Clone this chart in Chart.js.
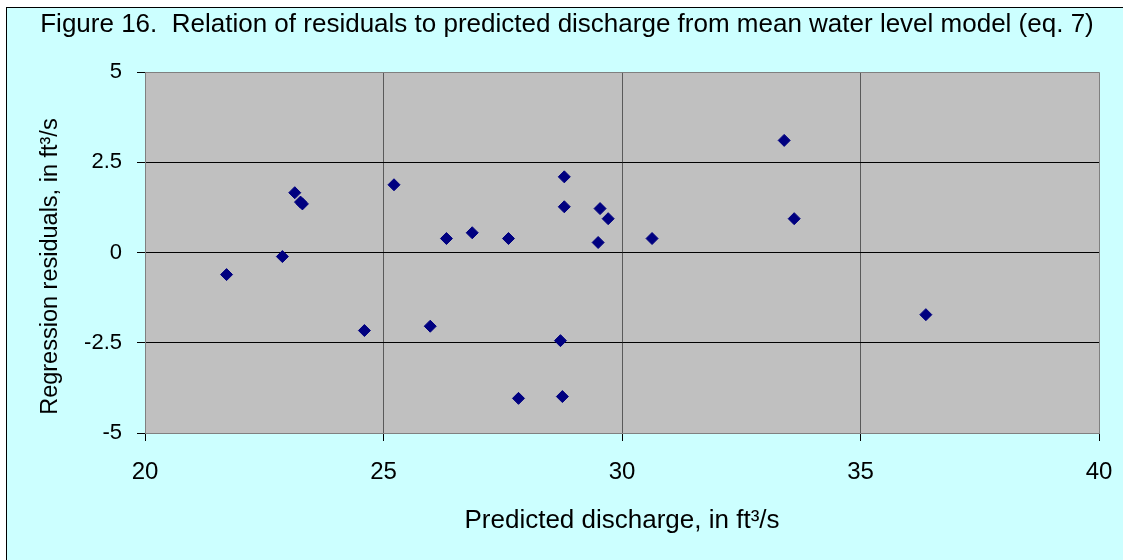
<!DOCTYPE html>
<html>
<head>
<meta charset="utf-8">
<script src="https://cdn.jsdelivr.net/npm/chart.js@4"></script>
<style>
    body { margin: 0; background: #fff; overflow: hidden; }
    #frame {
        position: absolute; left: 6px; top: 7px;
        width: 1200px; height: 600px;
        background: #CCFFFF; border: 1px solid #000;
    }
    #wrap { position: absolute; left: 0; top: 0; width: 1123px; height: 560px; }
</style>
</head>
<body>
<div id="frame"></div>
<div id="wrap"><canvas id="residualChart" width="1123" height="560"></canvas></div>
<script>
// Predicted discharge (ft3/s) and regression residuals (ft3/s)
const predicted = [21.71, 22.88, 23.14, 23.26, 23.30, 24.60, 25.22, 25.98, 26.32, 26.86, 27.62, 27.83,
                   28.71, 28.75, 28.79, 28.79, 29.50, 29.54, 29.71, 30.63, 33.40, 33.61, 36.37];
const residuals = [-0.61, -0.11, 1.66, 1.40, 1.35, -2.16, 1.88, -2.04, 0.39, 0.55, 0.39, -4.04,
                   -2.44, -3.99, 2.10, 1.27, 0.28, 1.22, 0.94, 0.39, 3.11, 0.94, -1.72];
const xTicks = [20, 25, 30, 35, 40];
const yTicks = [-5, -2.5, 0, 2.5, 5];

const chartTitle = 'Figure 16.  Relation of residuals to predicted discharge from mean water level model (eq. 7)';
const xTitle = 'Predicted discharge, in ft\u00B3/s';
const yTitle = 'Regression residuals, in ft\u00B3/s';

const FONT = 'Arial, "Liberation Sans", sans-serif';

// gray plot area behind the points
const plotBackground = {
    id: 'plotBackground',
    beforeDraw(chart) {
        const { ctx, chartArea: a } = chart;
        ctx.save();
        ctx.fillStyle = '#C0C0C0';
        ctx.fillRect(a.left, a.top, a.right - a.left, a.bottom - a.top);
        ctx.restore();
    }
};

// y axis title sits a bit below the middle of the plot in the original
const yAxisTitle = {
    id: 'yAxisTitle',
    afterDraw(chart) {
        const { ctx, chartArea: a } = chart;
        ctx.save();
        ctx.translate(51, (a.top + a.bottom) / 2 + 14);
        ctx.rotate(-Math.PI / 2);
        ctx.font = '23.5px ' + FONT;
        ctx.fillStyle = '#000';
        ctx.textAlign = 'center';
        ctx.textBaseline = 'middle';
        ctx.fillText(yTitle, 0, 0);
        ctx.restore();
    }
};

function edgeColor(lo, hi, inner) {
    return c => (c.tick && (c.tick.value === lo || c.tick.value === hi)) ? '#808080' : inner;
}

const points = predicted.map((x, i) => ({ x, y: residuals[i] }));

new Chart(document.getElementById('residualChart'), {
    type: 'scatter',
    data: {
        datasets: [{
            data: points,
            pointStyle: 'rectRot',
            radius: 6,
            borderWidth: 1,
            backgroundColor: '#000080',
            borderColor: '#000080'
        }]
    },
    options: {
        responsive: false,
        animation: false,
        layout: { padding: { left: 35, right: 24, top: 0, bottom: 0 } },
        plugins: {
            legend: { display: false },
            tooltip: { enabled: false },
            title: {
                display: true,
                text: chartTitle,
                color: '#000',
                font: { family: FONT, size: 26, weight: 'normal' },
                padding: { top: 9, bottom: 32 }
            }
        },
        scales: {
            x: {
                type: 'linear',
                min: 20, max: 40,
                afterBuildTicks: s => { s.ticks = xTicks.map(v => ({ value: v })); },
                afterFit: s => {
                    s.height = 127;
                    s.paddingLeft = 0;
                    s.paddingRight = 0;
                },
                grid: { color: edgeColor(20, 40, '#5a5a5a'), tickColor: '#000', tickLength: 8, lineWidth: 1 },
                border: { display: true, color: '#808080', width: 1 },
                ticks: { color: '#000', padding: 17, font: { family: FONT, size: 24 } },
                title: {
                    display: true, text: xTitle, color: '#000',
                    font: { family: FONT, size: 26 },
                    padding: { top: 0, bottom: 24 }
                }
            },
            y: {
                type: 'linear',
                min: -5, max: 5,
                afterBuildTicks: s => { s.ticks = yTicks.map(v => ({ value: v })); },
                afterFit: s => { s.width = 110; },
                grid: { color: edgeColor(-5, 5, '#000'), tickColor: '#000', tickLength: 8, lineWidth: 1 },
                border: { display: true, color: '#808080', width: 1 },
                ticks: { color: '#000', padding: 15, font: { family: FONT, size: 22 } }
            }
        }
    },
    plugins: [plotBackground, yAxisTitle]
});
</script>
</body>
</html>
